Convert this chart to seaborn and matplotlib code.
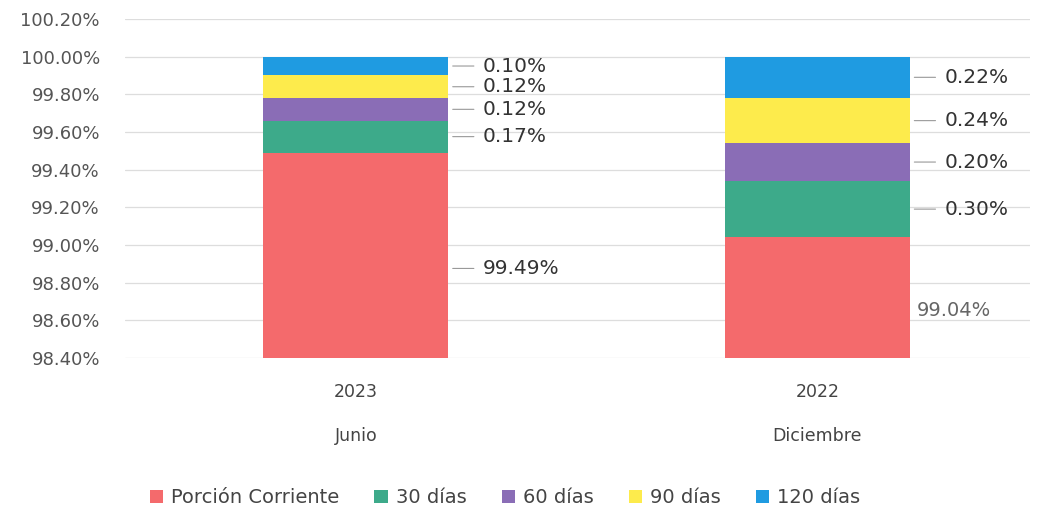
import matplotlib
matplotlib.use("Agg")
import matplotlib.pyplot as plt
import seaborn as sns
import numpy as np

# data
periods = ["2023\n\nJunio", "2022\n\nDiciembre"]
series_names = ["Porción Corriente", "30 días", "60 días", "90 días", "120 días"]
corriente = [99.49, 99.04]
dias_30 = [0.17, 0.30]
dias_60 = [0.12, 0.20]
dias_90 = [0.12, 0.24]
dias_120 = [0.10, 0.22]

colors = ["#F46A6C", "#3DAA8A", "#8A6DB6", "#FDEB4C", "#1F9BE1"]

sns.set_theme(style="white")
plt.rcParams["font.family"] = ["DejaVu Sans"]

fig = plt.figure(figsize=(10.37, 5.12), dpi=100)
ax = fig.add_axes([0.1205, 0.301, 0.8725, 0.662])

values = np.array([corriente, dias_30, dias_60, dias_90, dias_120])
tops = values.cumsum(axis=0)
bottoms = tops - values

# draw cumulative bars from the top series down so each segment shows
for i in range(len(series_names) - 1, -1, -1):
    sns.barplot(x=periods, y=tops[i], color=colors[i], width=0.4,
                saturation=1, ax=ax, label=series_names[i], linewidth=0)

ymin, ymax = 98.4, 100.2
ax.set_ylim(ymin, ymax)
ax.set_xlim(-0.5, 1.46)
yticks = np.arange(98.4, 100.21, 0.2)
ax.set_yticks(yticks)
ax.set_yticklabels([f"{t:.2f}%" for t in yticks], color="#555555", fontsize=13)
ax.tick_params(axis="x", labelsize=12.5, colors="#444444", pad=12)
ax.tick_params(axis="y", pad=18, length=0)
for lab in ax.get_xticklabels():
    lab.set_linespacing(1.3)
ax.yaxis.grid(True, color="#dddddd", linewidth=0.9)
ax.set_axisbelow(True)
for s in ax.spines.values():
    s.set_visible(False)
ax.set_xlabel("")
ax.set_ylabel("")

# data labels with short leader lines
for j in range(len(periods)):
    x_edge = j + 0.2
    for i in range(len(series_names)):
        if i == 0:
            yc = (max(bottoms[i][j], ymin) + tops[i][j]) / 2 - 0.07
        else:
            yc = (bottoms[i][j] + tops[i][j]) / 2
        txt = f"{values[i][j]:.2f}%"
        if i == 0 and j == 1:
            ax.text(x_edge + 0.015, yc, txt, va="center", ha="left",
                    fontsize=14, color="#666666")
            continue
        ax.annotate(txt, xy=(x_edge + 0.01, yc), xytext=(x_edge + 0.075, yc),
                    va="center", ha="left", fontsize=14.5, color="#333333",
                    arrowprops=dict(arrowstyle="-", color="#999999", lw=0.8,
                                    shrinkA=4, shrinkB=0))

handles, labels = ax.get_legend_handles_labels()
if ax.get_legend() is not None:
    ax.get_legend().remove()
order = [labels.index(n) for n in series_names]
fig.legend([handles[k] for k in order], [labels[k] for k in order],
           loc="lower center", bbox_to_anchor=(0.487, -0.025), ncol=5,
           frameon=False, fontsize=14, handlelength=0.7, handleheight=0.7,
           handletextpad=0.4, columnspacing=1.8, labelcolor="#444444")

fig.savefig("out.png", dpi=100)
